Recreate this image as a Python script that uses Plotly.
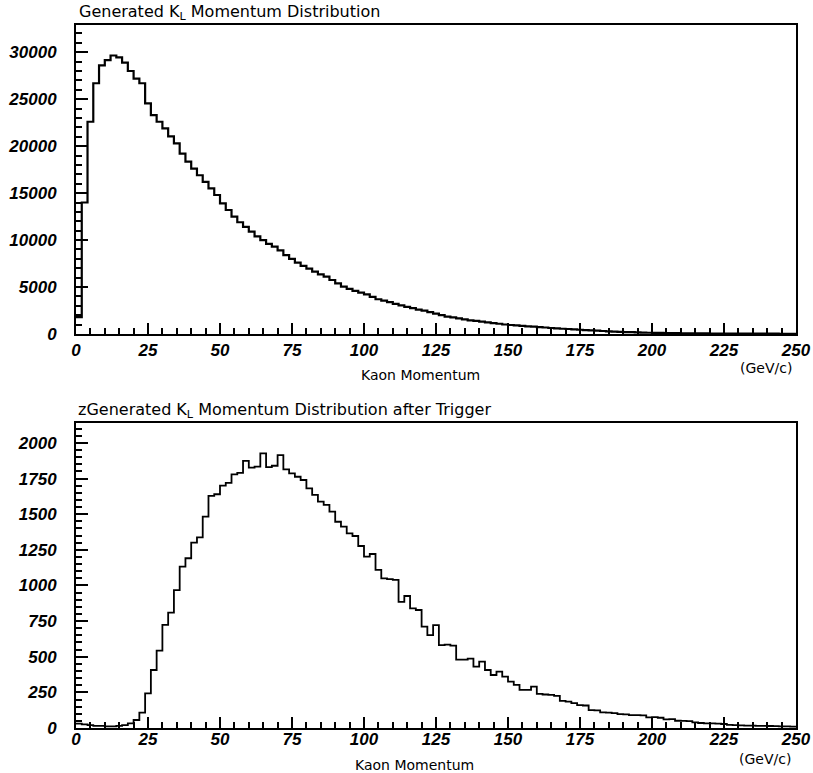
import plotly.graph_objects as go

# 2 GeV/c bins from 0 to 250 GeV/c
bin_width = 2
bin_lo = list(range(0, 250, bin_width))

generated_counts = [
    1800, 14000, 22600, 26700, 28600, 29150, 29650, 29450, 28900, 28000,
    27200, 26700, 24550, 23300, 22600, 21900, 21050, 20300, 19200, 18350,
    17600, 16900, 16200, 15500, 14800, 13900, 13200, 12500, 11900, 11400,
    10900, 10400, 10000, 9600, 9300, 8900, 8400, 8000, 7600, 7250,
    6950, 6650, 6350, 6100, 5750, 5400, 5050, 4800, 4600, 4400,
    4220, 3950, 3700, 3550, 3400, 3200, 3050, 2880, 2750, 2600,
    2480, 2330, 2180, 2020, 1860, 1760, 1660, 1560, 1460, 1390,
    1310, 1240, 1160, 1090, 1010, 960, 910, 860, 820, 780,
    730, 690, 640, 600, 560, 530, 490, 450, 410, 380,
    350, 320, 290, 260, 235, 210, 190, 170, 150, 135,
    120, 110, 100, 90, 85, 80, 75, 70, 65, 60,
    55, 52, 50, 47, 45, 42, 40, 38, 36, 34,
    32, 30, 28, 26, 24,
]

triggered_counts = [
    30, 25, 20, 15, 15, 12, 12, 15, 20, 33,
    56, 108, 243, 407, 543, 723, 809, 968, 1132, 1191,
    1301, 1338, 1483, 1628, 1640, 1700, 1720, 1780, 1790, 1874,
    1827, 1834, 1927, 1830, 1840, 1915, 1815, 1787, 1763, 1740,
    1682, 1635, 1588, 1565, 1518, 1447, 1413, 1366, 1347, 1277,
    1202, 1221, 1109, 1050, 1045, 1039, 885, 926, 840, 828,
    711, 652, 722, 581, 585, 578, 480, 480, 487, 430,
    466, 407, 372, 395, 360, 325, 302, 267, 267, 290,
    240, 235, 232, 225, 190, 185, 175, 161, 158, 126,
    124, 110, 108, 105, 98, 96, 91, 90, 88, 75,
    76, 72, 61, 62, 51, 50, 48, 40, 35, 33,
    32, 30, 28, 22, 20, 18, 17, 16, 15, 15,
    14, 13, 12, 12, 10,
]

x_ticks = [0, 25, 50, 75, 100, 125, 150, 175, 200, 225, 250]
top_y_ticks = [0, 5000, 10000, 15000, 20000, 25000, 30000]
bot_y_ticks = [0, 250, 500, 750, 1000, 1250, 1500, 1750, 2000]

top_title = "Generated K<sub>L</sub> Momentum Distribution"
bot_title = "zGenerated K<sub>L</sub> Momentum Distribution after Trigger"
x_title = "Kaon Momentum"
unit_label = "(GeV/c)"

edges = bin_lo + [bin_lo[-1] + bin_width]

def labels(vals):
    return ["<i>%d</i>" % v for v in vals]

fig = go.Figure()
fig.add_trace(go.Scatter(x=edges, y=generated_counts + [generated_counts[-1]],
                         mode="lines", line=dict(shape="hv", color="black", width=2.2),
                         xaxis="x", yaxis="y", showlegend=False))
fig.add_trace(go.Scatter(x=edges, y=triggered_counts + [triggered_counts[-1]],
                         mode="lines", line=dict(shape="hv", color="black", width=1.8),
                         xaxis="x2", yaxis="y2", showlegend=False))

tickfont = dict(family="Liberation Sans", size=17, color="black", weight="bold", style="italic")
common_x = dict(range=[0, 250], tickvals=x_ticks, ticktext=labels(x_ticks),
                showgrid=False, zeroline=False, automargin=False,
                showline=True, linecolor="black", linewidth=2, mirror=True,
                ticks="inside", ticklen=11, tickwidth=2, tickcolor="black",
                minor=dict(dtick=5, ticks="inside", ticklen=6, tickwidth=1.5, tickcolor="black"),
                tickfont=tickfont)
common_y = dict(showgrid=False, zeroline=False, showline=True, linecolor="black", linewidth=2,
                mirror=True, ticks="inside", ticklen=12, tickwidth=2, tickcolor="black",
                tickfont=tickfont, ticklabelstandoff=14, automargin=False)

L, R, T, B = 76, 17, 25, 45
W, H = 813, 773
pw, ph = W - L - R, H - T - B

def px(x):
    return (x - L) / pw

def py(y):
    return (H - B - y) / ph

fig.update_layout(
    width=W, height=H, margin=dict(l=L, r=R, t=T, b=B),
    paper_bgcolor="white", plot_bgcolor="white",
    xaxis=dict(**common_x, domain=[0, 1], anchor="y", ticklabelstandoff=0),
    yaxis=dict(**common_y, range=[0, 32900], tickvals=top_y_ticks, ticktext=labels(top_y_ticks),
               domain=[py(334), 1], anchor="x",
               minor=dict(dtick=1000, ticks="inside", ticklen=6, tickwidth=1.5, tickcolor="black")),
    xaxis2=dict(**common_x, domain=[0, 1], anchor="y2", ticklabelstandoff=-5),
    yaxis2=dict(**common_y, range=[0, 2140], tickvals=bot_y_ticks, ticktext=labels(bot_y_ticks),
                domain=[0, py(423)], anchor="x2",
                minor=dict(dtick=50, ticks="inside", ticklen=6, tickwidth=1.5, tickcolor="black")),
)

title_font = dict(family="DejaVu Sans", size=16, color="black")
ann_font = dict(family="DejaVu Sans", size=14, color="black")
fig.add_annotation(text=top_title, x=px(77), y=py(13), xref="paper", yref="paper",
                   xanchor="left", yanchor="middle", showarrow=False, font=title_font)
fig.add_annotation(text=bot_title, x=px(76), y=py(411), xref="paper", yref="paper",
                   xanchor="left", yanchor="middle", showarrow=False, font=title_font)
fig.add_annotation(text=x_title, x=px(420), y=py(375), xref="paper", yref="paper",
                   xanchor="center", yanchor="middle", showarrow=False, font=ann_font)
fig.add_annotation(text=unit_label, x=px(766), y=py(368), xref="paper", yref="paper",
                   xanchor="center", yanchor="middle", showarrow=False, font=ann_font)
fig.add_annotation(text=x_title, x=px(414), y=py(765), xref="paper", yref="paper",
                   xanchor="center", yanchor="middle", showarrow=False, font=ann_font)
fig.add_annotation(text=unit_label, x=px(765), y=py(759), xref="paper", yref="paper",
                   xanchor="center", yanchor="middle", showarrow=False, font=ann_font)

fig.write_html("out.html")
